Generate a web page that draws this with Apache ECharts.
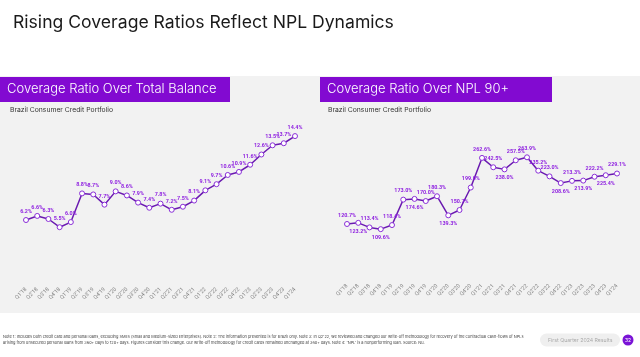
<!DOCTYPE html>
<html><head><meta charset="utf-8">
<script src="https://cdn.jsdelivr.net/npm/echarts@6/dist/echarts.min.js"></script>
<style>html,body{margin:0;padding:0;background:#fff}#c{width:640px;height:357px}</style>
</head><body><div id="c"></div>
<script>
const quarters = ["Q1'18","Q2'18","Q3'18","Q4'18","Q1'19","Q2'19","Q3'19","Q4'19","Q1'20","Q2'20","Q3'20","Q4'20","Q1'21","Q2'21","Q3'21","Q4'21","Q1'22","Q2'22","Q3'22","Q4'22","Q1'23","Q2'23","Q3'23","Q4'23","Q1'24"];
const coverageTotalBalance = [6.2,6.6,6.3,5.5,6.0,8.8,8.7,7.7,9.0,8.6,7.9,7.4,7.8,7.2,7.5,8.1,9.1,9.7,10.6,10.9,11.6,12.6,13.5,13.7,14.4];
const coverageNpl90 = [120.7,123.2,113.4,109.6,118.4,173.0,174.6,170.0,180.3,139.3,150.7,199.0,262.6,242.5,238.0,257.5,263.9,235.2,223.0,208.6,213.3,213.9,222.2,225.4,229.1];

// label placement (style only): [position, x-offset]
const leftLbl = quarters.map(()=>['top',0]);
const rightLbl = [['top',0],['bottom',0],['top',0],['bottom',0],['top',0],['top',0],['bottom',0],['top',0],['top',0],['bottom',0],
  ['top',-6],['top',-8],['top',0],['top',1],['bottom',0],['top',0],['top',0],['top',9],['top',0],['bottom',0],
  ['top',0],['bottom',0],['top',0],['bottom',0],['top',0]];

const PURPLE = '#820ad1', LINE = '#6a1ab0', LBL = '#8e1fe0';
const chart = echarts.init(document.getElementById('c'));

function mkSeries(vals, lbl, idx){
  return {
    type:'line', xAxisIndex:idx, yAxisIndex:idx,
    data: vals.map((v,i)=>({value:v, label:{position:lbl[i][0], offset:[lbl[i][1],0]}})),
    symbol:'circle', symbolSize:5,
    itemStyle:{color:'#fff', borderColor:'#8a2ed8', borderWidth:1},
    lineStyle:{color:LINE, width:1.5},
    label:{show:true, distance:3, color:LBL, fontSize:5.4, fontWeight:'bold', fontFamily:'Roboto',
      formatter:p=>p.value.toFixed(1)+'%'},
    labelLayout:{hideOverlap:false},
    animation:false, z:5
  };
}
function xAx(idx){
  return {type:'category', gridIndex:idx, data:quarters, boundaryGap:false,
    axisLine:{show:false}, axisTick:{show:false}, splitLine:{show:false},
    axisLabel:{rotate:45, interval:0, fontSize:5.5, color:'#8a8a8a', margin:5, fontFamily:'Roboto'}};
}
const hdr = (x,w,t)=>[
  {type:'rect', shape:{x:x,y:77,width:w,height:25}, style:{fill:PURPLE}},
  {type:'text', x:x+7, y:89.5, style:{text:t, fill:'#fff', fontSize:13, fontFamily:'Inter', fontWeight:300, verticalAlign:'middle'}}
];
chart.setOption({
  animation:false,
  backgroundColor:'#ffffff',
  graphic:[
    {type:'rect', z:-10, shape:{x:0,y:76,width:640,height:237}, style:{fill:'#f2f2f2'}},
    {type:'text', x:13, y:23, style:{text:'Rising Coverage Ratios Reflect NPL Dynamics', fill:'#1a1a1a', fontSize:17.6, fontFamily:'Inter', fontWeight:400, verticalAlign:'middle'}},
    ...hdr(0,230,'Coverage Ratio Over Total Balance'),
    ...hdr(320,232,'Coverage Ratio Over NPL 90+'),
    {type:'text', x:10, y:110, style:{text:'Brazil Consumer Credit Portfolio', fill:'#333', fontSize:6.8, fontFamily:'Inter', verticalAlign:'middle'}},
    {type:'text', x:328, y:110, style:{text:'Brazil Consumer Credit Portfolio', fill:'#333', fontSize:6.8, fontFamily:'Inter', verticalAlign:'middle'}},
    {type:'text', x:3, y:337, style:{text:"Note 1: Includes both credit card and personal loans, excluding SMEs (Small and Medium-sized Enterprises). Note 2: The information presented is for Brazil only. Note 3: In Q2'22, we reviewed and changed our write-off methodology for recovery of the contractual cash-flows of NPLs", fill:'#444', fontSize:3.9, fontFamily:'Inter', verticalAlign:'middle'}},
    {type:'text', x:3, y:342.5, style:{text:"arising from unsecured personal loans from 360+ days to 120+ days. Figures consider this change. Our write-off methodology for credit cards remained unchanged at 360+ days. Note 4: 'NPL' is a nonperforming loan. Source: Nu.", fill:'#444', fontSize:3.9, fontFamily:'Inter', verticalAlign:'middle'}},
    {type:'rect', shape:{x:540,y:333.5,width:80,height:13,r:6.5}, style:{fill:'#efefef'}},
    {type:'text', x:548, y:340, style:{text:'First Quarter 2024 Results', fill:'#aaa', fontSize:5.2, fontFamily:'Inter', verticalAlign:'middle'}},
    {type:'circle', shape:{cx:628,cy:340,r:5.5}, style:{fill:'#7a14d6'}},
    {type:'text', x:628, y:340, style:{text:'32', fill:'#fff', fontSize:5, fontFamily:'Inter', align:'center', verticalAlign:'middle'}}
  ],
  grid:[
    {left:26, width:269, top:119.7, height:163.8},
    {left:347, width:270, top:140.5, height:139.7}
  ],
  xAxis:[xAx(0), xAx(1)],
  yAxis:[
    {type:'value', gridIndex:0, min:0, max:16, show:false},
    {type:'value', gridIndex:1, min:0, max:300, show:false}
  ],
  series:[mkSeries(coverageTotalBalance,leftLbl,0), mkSeries(coverageNpl90,rightLbl,1)]
});
</script></body></html>
